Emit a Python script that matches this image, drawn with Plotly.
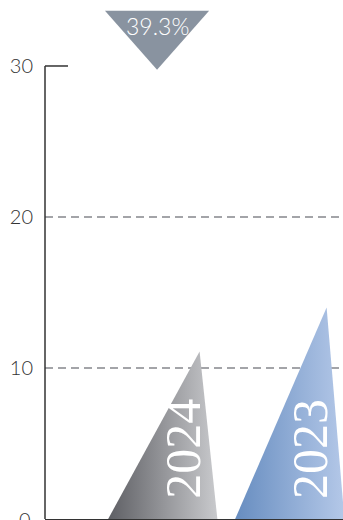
import plotly.graph_objects as go

# ---- data ----
categories = ["2024", "2023"]
positions = [0, 1]
values = [11.1, 14.0]
growth_label = "39.3%"
growth_marker_tip = 29.75
growth_marker_top = 33.65
y_ticks = [0, 10, 20, 30]
grid_values = [10, 20]

# ---- styles ----
half_base = 0.43
apex_offset = 0.29
gradients = [
    [[0, "#5e5f64"], [1, "#c9cacd"]],
    [[0, "#678dc0"], [1, "#b4c8e8"]],
]
tick_font = dict(family="Lato", size=20, color="#333333", weight=300)

fig = go.Figure()

for cat, pos, val, cs in zip(categories, positions, values, gradients):
    fig.add_trace(go.Scatter(
        x=[pos - half_base, pos + apex_offset, pos + half_base, pos - half_base],
        y=[0, val, 0, 0],
        mode="lines",
        line=dict(width=0),
        fill="toself",
        fillgradient=dict(type="horizontal", colorscale=cs),
        hoverinfo="skip",
        showlegend=False,
    ))
    fig.add_annotation(
        x=pos + 0.16, y=4.65, text=cat, textangle=-90, showarrow=False,
        font=dict(family="Liberation Serif", size=50, color="white"),
        xanchor="center", yanchor="middle",
    )

# growth marker (inverted triangle)
gx = -0.045
fig.add_trace(go.Scatter(
    x=[gx - 0.41, gx + 0.41, gx, gx - 0.41],
    y=[growth_marker_top, growth_marker_top, growth_marker_tip, growth_marker_top],
    mode="lines", line=dict(width=0), fill="toself", fillcolor="#8993a0",
    hoverinfo="skip", showlegend=False,
))
fig.add_annotation(
    x=gx, y=growth_marker_top - 1.03, text=growth_label, showarrow=False,
    font=dict(family="Lato", size=23, color="white", weight=300),
    xanchor="center", yanchor="middle",
)

# dashed gridlines
for g in grid_values:
    fig.add_shape(type="line", xref="paper", x0=0, x1=1, yref="y", y0=g, y1=g,
                  line=dict(color="#85868c", width=1.3, dash="8px,5px"), layer="below")

# y axis line and top cap
fig.add_shape(type="line", xref="paper", x0=0, x1=0, yref="y", y0=0, y1=30,
              line=dict(color="#333333", width=1.5))
fig.add_shape(type="line", xref="paper", x0=0, x1=23 / 298, yref="y", y0=30, y1=30,
              line=dict(color="#333333", width=1.5))

# bottom tick label (sits on the page edge)
fig.add_annotation(
    xref="paper", x=-12 / 298, yref="y", y=y_ticks[0], text=str(y_ticks[0]),
    showarrow=False, xanchor="right", yanchor="middle", font=tick_font,
)

fig.update_layout(
    width=343, height=520,
    margin=dict(l=45, r=0, t=0, b=1),
    paper_bgcolor="white", plot_bgcolor="white",
    xaxis=dict(range=[-0.927, 1.419], showgrid=False, zeroline=False,
               showticklabels=False, showline=True, linecolor="#333333",
               linewidth=1.5, fixedrange=True),
    yaxis=dict(range=[0, 34.37], tickvals=y_ticks[1:], showgrid=False, zeroline=False,
               showline=False, ticks="", ticklabelstandoff=11,
               tickfont=tick_font, fixedrange=True),
)

fig.write_html("out.html")
